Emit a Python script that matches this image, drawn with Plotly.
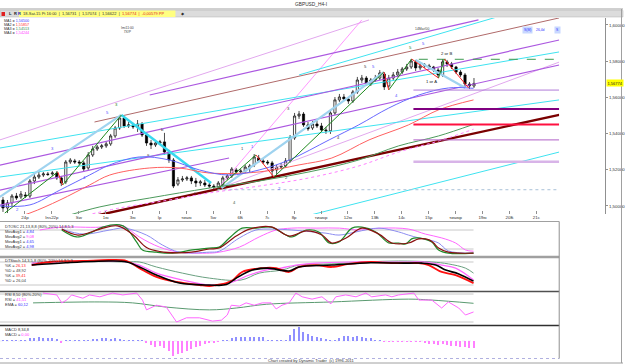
import plotly.graph_objects as go

W, H = 625, 364

# ---------------- data ----------------
bars = list(range(106))
opens = [1.5033,1.4989,1.5017,1.5055,1.5050,1.5061,1.5055,1.5138,1.5160,1.5171,
         1.5177,1.5177,1.5182,1.5155,1.5133,1.5243,1.5249,1.5243,1.5238,1.5210,
         1.5282,1.5315,1.5326,1.5332,1.5343,1.5387,1.5431,1.5486,1.5442,1.5448,
         1.5437,1.5453,1.5392,1.5348,1.5337,1.5348,1.5354,1.5298,1.5254,1.5121,
         1.5144,1.5149,1.5155,1.5138,1.5127,1.5127,1.5116,1.5110,1.5105,1.5116,
         1.5155,1.5166,1.5199,1.5188,1.5193,1.5210,1.5227,1.5265,1.5249,1.5243,
         1.5238,1.5199,1.5215,1.5221,1.5249,1.5376,1.5497,1.5508,1.5448,1.5431,
         1.5453,1.5442,1.5420,1.5415,1.5514,1.5586,1.5602,1.5591,1.5580,1.5630,
         1.5696,1.5707,1.5674,1.5696,1.5707,1.5729,1.5663,1.5707,1.5724,1.5740,
         1.5757,1.5768,1.5796,1.5763,1.5774,1.5774,1.5768,1.5751,1.5724,1.5796,
         1.5785,1.5768,1.5740,1.5724,1.5674,1.5663]
closes = [1.4989,1.5017,1.5055,1.5044,1.5066,1.5055,1.5138,1.5160,1.5171,1.5177,
          1.5174,1.5182,1.5155,1.5127,1.5243,1.5254,1.5243,1.5238,1.5204,1.5282,
          1.5315,1.5326,1.5332,1.5343,1.5387,1.5431,1.5486,1.5442,1.5448,1.5437,
          1.5453,1.5392,1.5348,1.5337,1.5348,1.5354,1.5298,1.5254,1.5110,1.5144,
          1.5149,1.5155,1.5138,1.5127,1.5133,1.5116,1.5110,1.5105,1.5127,1.5155,
          1.5166,1.5204,1.5188,1.5193,1.5215,1.5221,1.5271,1.5249,1.5243,1.5238,
          1.5193,1.5215,1.5221,1.5249,1.5376,1.5497,1.5508,1.5448,1.5426,1.5453,
          1.5442,1.5420,1.5415,1.5514,1.5586,1.5602,1.5591,1.5580,1.5630,1.5696,
          1.5707,1.5674,1.5696,1.5707,1.5735,1.5658,1.5707,1.5724,1.5740,1.5757,
          1.5768,1.5801,1.5763,1.5774,1.5779,1.5768,1.5751,1.5724,1.5796,1.5785,
          1.5768,1.5740,1.5724,1.5674,1.5663,1.56774]
highs = [1.5050,1.5033,1.5066,1.5072,1.5083,1.5077,1.5149,1.5177,1.5188,1.5188,
         1.5188,1.5193,1.5193,1.5166,1.5254,1.5265,1.5260,1.5254,1.5249,1.5298,
         1.5332,1.5337,1.5343,1.5354,1.5398,1.5442,1.5503,1.5497,1.5464,1.5459,
         1.5475,1.5464,1.5404,1.5365,1.5359,1.5365,1.5404,1.5310,1.5265,1.5160,
         1.5166,1.5166,1.5166,1.5155,1.5144,1.5144,1.5127,1.5121,1.5138,1.5166,
         1.5177,1.5215,1.5210,1.5204,1.5227,1.5232,1.5287,1.5282,1.5260,1.5254,
         1.5249,1.5227,1.5238,1.5265,1.5392,1.5514,1.5525,1.5519,1.5464,1.5470,
         1.5470,1.5459,1.5437,1.5531,1.5602,1.5619,1.5619,1.5602,1.5641,1.5713,
         1.5724,1.5718,1.5707,1.5724,1.5751,1.5740,1.5724,1.5740,1.5757,1.5768,
         1.5785,1.5812,1.5807,1.5790,1.5790,1.5785,1.5774,1.5763,1.5812,1.5807,
         1.5796,1.5774,1.5751,1.5735,1.5685,1.5707]
lows = [1.4967,1.4961,1.5000,1.5033,1.5039,1.5044,1.5044,1.5121,1.5149,1.5160,
        1.5166,1.5166,1.5144,1.5110,1.5121,1.5232,1.5232,1.5227,1.5188,1.5199,
        1.5271,1.5304,1.5315,1.5321,1.5332,1.5376,1.5420,1.5431,1.5431,1.5426,
        1.5409,1.5381,1.5332,1.5315,1.5326,1.5337,1.5282,1.5238,1.5099,1.5110,
        1.5133,1.5138,1.5121,1.5105,1.5110,1.5105,1.5099,1.5094,1.5088,1.5105,
        1.5144,1.5155,1.5177,1.5177,1.5182,1.5188,1.5215,1.5238,1.5232,1.5227,
        1.5160,1.5177,1.5204,1.5210,1.5238,1.5365,1.5481,1.5437,1.5415,1.5420,
        1.5431,1.5409,1.5398,1.5398,1.5503,1.5575,1.5580,1.5564,1.5569,1.5619,
        1.5680,1.5663,1.5663,1.5685,1.5696,1.5641,1.5652,1.5696,1.5713,1.5729,
        1.5746,1.5757,1.5746,1.5751,1.5763,1.5757,1.5740,1.5707,1.5713,1.5768,
        1.5757,1.5729,1.5713,1.5658,1.5646,1.5652]

# moving averages (bar, price)
ma1_x = [-0.7,6,12.7,19.3,23.8,30.4,37.1,43.8,50.4,57.1,63.8,72.7,79.3,86,92.7,99.3,104.9]
ma1_y = [1.5000,1.5006,1.5088,1.5171,1.5227,1.5271,1.5254,1.5199,1.5171,1.5199,1.5254,1.5365,1.5448,1.5541,1.5613,1.5652,1.5650]
ma2_x = [-0.7,6,12.7,19.3,23.8,32.7,39.3,46,57.1,66,73.3,81.6,90.4,97.1,104.9]
ma2_y = [1.4911,1.4961,1.5033,1.5116,1.5171,1.5210,1.5210,1.5182,1.5188,1.5227,1.5265,1.5365,1.5448,1.5531,1.5586]
ma3_x = [12.7,21.6,32.7,46,57.1,68.2,79.3,88.2,97.1,104.9]
ma3_y = [1.4934,1.4995,1.5044,1.5099,1.5138,1.5188,1.5254,1.5332,1.5387,1.5451]
ma4_x = [16,26,37.1,46,57.1,68.2,79.3,88.2,97.1,104.9]
ma4_y = [1.4934,1.4989,1.5033,1.5072,1.5110,1.5155,1.5221,1.5298,1.5359,1.5424]

# drawn trend lines: (bar0, price0, bar1, price1)
purple_lines = [(-0.7,1.5226,124,1.5917),(-0.7,1.5088,124,1.5779),
                (32.7,1.5613,106,1.6028),(-0.7,1.5005,50.4,1.5265)]
cyan_lines = [(-0.7,1.5320,124,1.5851),(-0.7,1.5160,124,1.5586),
              (66,1.4934,124,1.5298),(66,1.5724,111.6,1.6055)]
plum_lines = [(-0.7,1.5365,81.6,1.6028),(47.8,1.5094,124,1.5795)]
pink_lines = [(47.8,1.5094,80,1.6028)]
brown_lines = [(20.4,1.5464,124,1.6039)]
darkred_lines = [(19.3,1.4939,124,1.5503)]
lightblue_lines = [(-0.7,1.5050,26.4,1.5503),(48.7,1.5099,84.9,1.5740),(92,1.5807,103.1,1.5652)]
turq_lines = [(26.4,1.5503,46.4,1.5127)]
green_zig = [(0.4,1.4961,12.2,1.5188),(13.3,1.5116,26.4,1.5503),(47.8,1.5094,56.4,1.5282),
             (60.4,1.5160,84.9,1.5740),(86,1.5641,91.1,1.5812),(97.1,1.5707,98.4,1.5812)]
red_zig = [(12.2,1.5188,13.3,1.5116),(56.4,1.5282,60.4,1.5160),(84.9,1.5740,86,1.5641),
           (91.1,1.5812,97.1,1.5707),(98.4,1.5812,103.8,1.5652)]

fib_start, fib_end = 91.5, 124
fib_prices = [1.56404, 1.55352, 1.54502, 1.53651, 1.52440]
fib_labels = ["1,56404 Ret 0,236", "1,55352 Ret 0,382", "1,54502 Ret 0,500",
              "1,53651 Ret 0,618", "1,52440 Ret 0,786"]
fib_colors = ["#b07ad8", "#800080", "#ff1040", "#b060c8", "#d8b4e8"]
fib_widths = [1, 2, 2, 1, 2.6]
swing_high, swing_low = 1.58105, 1.50898

wave_labels = [(25.3,1.5558,"3","#208020"),(23.3,1.5514,"5","#5050ff"),(11.1,1.5320,"3","#5050ff"),
               (18.2,1.5155,"4","#5050ff"),(3.3,1.4978,"2","#5050ff"),(32.4,1.5282,"a","#404040"),
               (35.6,1.5420,"b","#404040"),(42.7,1.5077,"c","#404040"),(51.6,1.5022,"4","#406040"),
               (53.3,1.5320,"1","#404040"),(55.6,1.5326,"1","#5050ff"),(61.6,1.5099,"2","#5050ff"),
               (63.3,1.5155,"2","#404040"),(63.6,1.5541,"3","#404040"),(74.7,1.5376,"4","#404040"),
               (80.9,1.5773,"5","#404040"),(82.7,1.5773,"5","#5050ff"),(87.8,1.5613,"4","#5050ff"),
               (90.9,1.5878,"5","#208020"),(93.8,1.5900,"5","#5050ff"),(98.9,1.5845,"2 or B","#202020"),
               (95.6,1.5690,"1 or A","#202020")]

date_ticks = [4.9,10.9,16.9,22.9,28.9,34.9,40.9,46.9,52.9,58.9,64.9,70.9,76.9,82.9,88.9,94.9,100.9,106.9,112.9,118.9]
date_labels = ["24p","Ins22p","Sw","1ю","3ю","Ip","тиаю","5w","6Б","7c","8р","тиаюр","12ю","13Б","14c","15р","тиаюр","19ю","20Б","21c"]
price_ticks = [1.50,1.52,1.54,1.56,1.58,1.60]
price_labels = ["1,50000","1,52000","1,54000","1,56000","1,58000","1,60000"]
last_price = 1.56774

# DTOSC (bar, value)
osc_green_x = [13.1,16.4,19.3,22.2,26,27.5,29.8,31.1,34.2,37.8,42.2,46,48.2,50.4,53.3,56.4,59.8,63.1,64.4,67.6,70.4,72.7,74.9,77.8,80,83.1,86,88.2,89.8,91.1,92.2,93.8,95.6,97.1,99.3,104.9]
osc_green_y = [80,58,70,89,96,86,42,17,10,7,17,23,26,54,86,86,89,64,58,80,74,39,42,86,89,74,39,39,36,52,55,52,42,17,7,7]
osc_red_x = [13.1,16.7,21.6,25.5,29,32,35,39,42,46,48.2,52,55,59.8,63.8,67.6,71.1,73.3,76.4,80,83.8,86.7,90.4,92.7,95,96,97.1,99.3,104.9]
osc_red_y = [83,64,83,93,65,25,12,8,10,20,23,61,83,90,61,77,64,39,54,86,67,39,39,52,49,39,23,10,7]
osc_blue_x = [13.1,18,23.8,27,32,35.5,39.3,46,48.2,52.7,56.4,60,64.4,67.6,72,74.9,78.7,83.8,88.2,90.4,92.7,94.2,97.1,99.3,104.9]
osc_blue_y = [83,67,80,86,64,33,10,10,13,55,80,83,80,76,70,64,74,86,74,64,55,51,39,14,7]
osc_pink_x = [8.2,12.7,21.6,25.3,27,30.4,34.9,39.3,46,48.2,52.7,57.1,60.9,64.4,70,75,79.3,84.4,90.4,94.2,97.8,100.9,103.1,104.9]
osc_pink_y = [80,89,89,96,92,58,26,10,7,10,26,58,80,86,86,86,80,86,83,67,55,39,17,13]

# DTStoch
st_red_x = [6.4,10.4,17.8,23.8,27.6,30.4,34.2,38.7,43.8,46,47.6,49.8,51.3,53.3,57.8,60.9,63.8,66,69.8,73.3,77.1,82,86.7,90.4,92.7,94.9,97.8,100.9,104.9]
st_red_y = [72,80,82.6,85.2,82.6,64,41,28,20,17.4,20,25,33,54,64,64,54,67,72,67,75,80,77,77,77,72,54,46,25]
st_blk_x = [6.4,14,23.8,27.6,31,34.2,39.3,46,49.8,52,55.6,59,63.8,66,73.3,82,90.4,93.4,96.5,98.7,101.6,104.9]
st_blk_y = [72,78,82.6,80,64,46,25,20,21,38,59,64,56.5,67,72,78,77,77,72,59,49,30]
st_pink_x = [6.4,17.8,27.6,30.4,34.2,40,46,50.4,54.9,58.6,62,65.3,69.8,77.1,84.4,90.4,94.2,97.8,100.9,104.9]
st_pink_y = [77,82.6,80,72,51,33,20,25,46,59,64,72,77,80,80,80,80,72,64,33]
st_green_x = [6.4,17.8,27.6,30.4,34.2,40,46,53.1,57.1,62.2,66,73.3,80.9,88.2,95.6,99.3,103.1,104.9]
st_green_y = [77,82.6,80,80,67,51,38,33,51,59,72,75,80,82.6,80,75,64,51]

# RSI
rsi_x = [8.9,12,13.1,14.2,15.3,17.8,19.3,21.6,24.4,26.7,29.8,31.1,32,34.2,36.4,38.7,40.9,43.8,46.7,48.7,50,50.9,52.7,54.2,56,57.8,59.8,60.9,62.2,63.8,65.3,66.7,68.9,71.1,73.1,74.2,76.4,78.7,80.9,82.2,85.3,86.7,88.2,91.6,92.7,95.6,97.8,99.3,101.6,103.1,104.9]
rsi_y = [82,78,61,67,78,71,78,74,82,78,82,67,46,56,52,20,29,29,22,24,35,56,54,61,56,61,61,48,56,61,82,74,69,74,59,74,78,74,82,74,78,74,78,82,67,67,50,63,50,35,41.5]
ema_x = [6.7,21.6,28.9,36.4,46,52,58.7,73.3,90.4,95.6,104.9]
ema_y = [61,63,61,52,46,50,58,63,69,67,60.1]

# MACD histogram (one per bar)
macd_hist = [0.0001,0.0001,0.0001,0.0001,0.0001,0.0001,
             0.0006,0.0007,0.0008,0.0006,0.0007,0.0006,0.0004,
             -0.0004,
             0.0002,0.0002,0.0001,0.0001,0.0002,0.0002,0.0003,
             0.0004,0.0006,0.0006,0.0005,0.0006,0.0004,
             0.0002,0.0002,0.0001,0.0001,0.00006,
             -0.0003,-0.0008,-0.0012,-0.0010,-0.0013,-0.0020,-0.0030,-0.0026,-0.0024,-0.0020,
             -0.0016,-0.0012,-0.0010,-0.0006,-0.0004,-0.0003,-0.0001,0.0001,0.0002,
             0.0006,0.0008,0.0008,0.0008,0.0008,0.0009,0.0008,0.0008,
             0.0002,0.0001,0.0001,0.0002,0.0002,
             0.0012,0.0024,0.0028,0.0018,0.0014,0.0010,0.0008,
             0.0006,0.0004,0.0002,0.0001,
             0.0006,0.0010,0.0010,0.0008,0.0010,0.0008,0.0006,0.0006,
             0.0002,0.0001,-0.0002,-0.0002,-0.0001,-0.0002,
             -0.0002,-0.0002,-0.0001,-0.0002,-0.0002,
             -0.0004,-0.0005,-0.0006,-0.0008,-0.0006,-0.0008,-0.0010,-0.0010,-0.0011,-0.0012,-0.0014,-0.0014]

# ---------------- geometry helpers (layout only) ----------------
def px(x):
    return x / W

def py(y):
    return 1 - y / H

XR = [-0.667, 124.0]
XDOM = [0, px(561)]
FONT = "Liberation Sans"
FS = 4.4

fig = go.Figure()

def seg_trace(lines, color, width, axis=("x", "y"), dash="solid"):
    xs, ys = [], []
    for (a, b, c, d) in lines:
        xs += [a, c, None]
        ys += [b, d, None]
    fig.add_trace(go.Scatter(x=xs, y=ys, mode="lines", line=dict(color=color, width=width, dash=dash),
                             xaxis=axis[0], yaxis=axis[1], hoverinfo="skip", showlegend=False))

# main panel lines (behind candles)
seg_trace(plum_lines, "#e2a8ee", 1)
seg_trace(pink_lines, "#ff7cff", 0.8)
seg_trace(cyan_lines, "#3fe3f0", 1)
seg_trace(purple_lines, "#ac58e0", 1.2)
seg_trace(brown_lines, "#b06a6a", 1)
seg_trace(darkred_lines, "#7a0000", 2.4)
seg_trace(lightblue_lines, "#9fd3ef", 2.2)
seg_trace(turq_lines, "#38d8ee", 2.4)

fig.add_trace(go.Scatter(x=ma4_x, y=ma4_y, mode="lines", line=dict(color="#ff80ff", width=1, dash="dot", shape="spline"), hoverinfo="skip", showlegend=False))
fig.add_trace(go.Scatter(x=ma3_x, y=ma3_y, mode="lines", line=dict(color="#4c9a5c", width=1, shape="spline"), hoverinfo="skip", showlegend=False))
fig.add_trace(go.Scatter(x=ma2_x, y=ma2_y, mode="lines", line=dict(color="#ff6060", width=1, shape="spline"), hoverinfo="skip", showlegend=False))
fig.add_trace(go.Scatter(x=ma1_x, y=ma1_y, mode="lines", line=dict(color="#6868ff", width=1, shape="spline"), hoverinfo="skip", showlegend=False))

seg_trace([(fib_start + 1.2, swing_high, fib_end, swing_high)], "#3c9a50", 1, dash="dash")
seg_trace([(47.8, swing_low, fib_end, swing_low)], "#a8c0d8", 1, dash="dot")
for p, c, w in zip(fib_prices, fib_colors, fib_widths):
    seg_trace([(fib_start, p, fib_end, p)], c, w)

seg_trace(green_zig, "#1e8a1e", 1)
seg_trace(red_zig, "#ff2020", 1)

fig.add_trace(go.Candlestick(x=bars, open=opens, high=highs, low=lows, close=closes,
                             increasing=dict(line=dict(color="black", width=0.7), fillcolor="white"),
                             decreasing=dict(line=dict(color="black", width=0.7), fillcolor="black"),
                             whiskerwidth=0, hoverinfo="skip", showlegend=False))

# DTOSC
for xs, ys, c, w in [(osc_pink_x, osc_pink_y, "#ff66ff", 1), (osc_blue_x, osc_blue_y, "#8c8cf0", 1),
                     (osc_green_x, osc_green_y, "#1f8a2a", 1.2), (osc_red_x, osc_red_y, "#8b1010", 1.2)]:
    fig.add_trace(go.Scatter(x=xs, y=ys, mode="lines", line=dict(color=c, width=w, shape="spline"),
                             xaxis="x2", yaxis="y2", hoverinfo="skip", showlegend=False))
# DTStoch
for xs, ys, c, w in [(st_green_x, st_green_y, "#6aa080", 1), (st_pink_x, st_pink_y, "#ff66ff", 1.2),
                     (st_red_x, st_red_y, "#ff1010", 1.8), (st_blk_x, st_blk_y, "#000000", 1.6)]:
    fig.add_trace(go.Scatter(x=xs, y=ys, mode="lines", line=dict(color=c, width=w, shape="spline"),
                             xaxis="x3", yaxis="y3", hoverinfo="skip", showlegend=False))
# RSI
fig.add_trace(go.Scatter(x=ema_x, y=ema_y, mode="lines", line=dict(color="#5a9a70", width=1, shape="spline"),
                         xaxis="x4", yaxis="y4", hoverinfo="skip", showlegend=False))
fig.add_trace(go.Scatter(x=rsi_x, y=rsi_y, mode="lines", line=dict(color="#ff66ff", width=1),
                         xaxis="x4", yaxis="y4", hoverinfo="skip", showlegend=False))
# MACD
fig.add_trace(go.Bar(x=bars, y=macd_hist, width=0.25,
                     marker=dict(color=["#9090ff" if v >= 0 else "#ff80ff" for v in macd_hist], line=dict(width=0)),
                     xaxis="x5", yaxis="y5", hoverinfo="skip", showlegend=False))

# reference lines in sub panels
for ax, levels in [("y2", [80, 20]), ("y3", [80, 20]), ("y4", [80, 20])]:
    for lv in levels:
        fig.add_shape(type="line", xref="x2", yref=ax, x0=XR[0], x1=104.9, y0=lv, y1=lv,
                      line=dict(color="#c8c8c8", width=1), layer="below")
fig.add_shape(type="line", xref="x5", yref="y5", x0=XR[0], x1=104.9, y0=0, y1=0,
              line=dict(color="#e0e0f0", width=0.6, dash="dot"), layer="below")

ax_common = dict(showgrid=False, zeroline=False, showticklabels=False, ticks="", showline=False)
fig.update_layout(
    width=W, height=H, margin=dict(l=0, r=0, t=0, b=0),
    paper_bgcolor="white", plot_bgcolor="white", bargap=0,
    font=dict(family=FONT, size=FS, color="#303030"),
    xaxis=dict(domain=XDOM, range=XR, showgrid=False, zeroline=False, rangeslider=dict(visible=False),
               tickvals=date_ticks, ticktext=date_labels, ticks="inside", ticklen=3, tickcolor="#909090",
               tickfont=dict(size=FS, color="#303030"), anchor="y", showline=False),
    yaxis=dict(domain=[py(214), py(18)], range=[1.49557, 1.60386], side="right", anchor="free",
               position=px(607), tickvals=price_ticks, ticktext=price_labels, ticks="outside", ticklen=2,
               tickcolor="#909090", showline=True, linecolor="#909090", linewidth=1, showgrid=False,
               zeroline=False, tickfont=dict(size=FS, color="#303030")),
    xaxis2=dict(domain=XDOM, range=XR, anchor="y2", matches="x", **ax_common),
    yaxis2=dict(domain=[py(256), py(222)], range=[-2.1, 105.3], anchor="x2", **ax_common),
    xaxis3=dict(domain=XDOM, range=XR, anchor="y3", matches="x", **ax_common),
    yaxis3=dict(domain=[py(291), py(258)], range=[4.35, 90.4], anchor="x3", **ax_common),
    xaxis4=dict(domain=XDOM, range=XR, anchor="y4", matches="x", **ax_common),
    yaxis4=dict(domain=[py(325), py(292)], range=[13.6, 84.3], anchor="x4", **ax_common),
    xaxis5=dict(domain=XDOM, range=XR, anchor="y5", matches="x", **ax_common),
    yaxis5=dict(domain=[py(358), py(326)], range=[-0.0034, 0.0030], anchor="x5", **ax_common),
)

shapes = []
# toolbar
shapes.append(dict(type="line", xref="paper", yref="paper", x0=0, x1=1, y0=py(9), y1=py(9), line=dict(color="#a0a0a0", width=1)))
shapes.append(dict(type="rect", xref="paper", yref="paper", x0=0, x1=1, y0=py(17), y1=py(10.5), fillcolor="#dcdcdc", line=dict(color="#b0b0b0", width=0.5)))
shapes.append(dict(type="rect", xref="paper", yref="paper", x0=px(19), x1=px(176), y0=py(17), y1=py(10.5), fillcolor="#ffff80", line=dict(width=0)))
shapes.append(dict(type="rect", xref="paper", yref="paper", x0=px(1.5), x1=px(5), y0=py(16), y1=py(12), fillcolor="#e02020", line=dict(width=0)))
# panel frames
shapes.append(dict(type="line", xref="paper", yref="paper", x0=0, x1=px(561), y0=py(221.5), y1=py(221.5), line=dict(color="#a0a0a0", width=1)))
shapes.append(dict(type="line", xref="paper", yref="paper", x0=0, x1=px(561), y0=py(257), y1=py(257), line=dict(color="#a0a0a0", width=2.5)))
shapes.append(dict(type="line", xref="paper", yref="paper", x0=0, x1=px(561), y0=py(291.5), y1=py(291.5), line=dict(color="#505050", width=1.5)))
shapes.append(dict(type="line", xref="paper", yref="paper", x0=0, x1=px(561), y0=py(325.5), y1=py(325.5), line=dict(color="#303030", width=1.5)))
shapes.append(dict(type="line", xref="paper", yref="paper", x0=0, x1=px(561), y0=py(358.5), y1=py(358.5), line=dict(color="#b0b0e0", width=1, dash="dot")))
shapes.append(dict(type="line", xref="paper", yref="paper", x0=px(561), x1=px(561), y0=py(358.5), y1=py(221.5), line=dict(color="#909090", width=1)))
# outer border
shapes.append(dict(type="line", xref="paper", yref="paper", x0=0, x1=1, y0=py(363), y1=py(363), line=dict(color="#a0a0a0", width=1)))
shapes.append(dict(type="line", xref="paper", yref="paper", x0=px(623.5), x1=px(623.5), y0=py(363), y1=py(9), line=dict(color="#a0a0a0", width=1)))
for s in shapes:
    fig.add_shape(**s)

ann = []
def T(x, y, text, color="#303030", size=FS, xanchor="left", xref="paper", yref="paper", **kw):
    ann.append(dict(x=x, y=y, text=text, xref=xref, yref=yref, xanchor=xanchor, yanchor="middle",
                    showarrow=False, font=dict(size=size, color=color, family=FONT), **kw))

T(px(312), py(5), "GBPUSD_H4-I", xanchor="center", size=4.8)
T(px(7), py(13.8), "<b>L</b>", color="#202020", size=4)
T(px(12), py(13.8), "<b>R</b>", color="#202020", size=4)
T(px(16), py(13.8), "<b>R</b>", color="#2020c0", size=4)
T(px(21), py(13.8), "18-Sat-15 Pt 16:00  |  1,56731  |  1,57074  |  1,56622  |  "
  "<span style='color:#e02020'>1,56774  |  -0,00579 PP</span>", color="#303030", size=4.0)
T(px(180), py(13.8), "◆", color="#303030", size=4.0)

# MA legend
for i, (name, val, col) in enumerate([("MA1", "1,56500", "#3838ff"), ("MA2", "1,55857", "#ff3030"),
                                      ("MA3", "1,54513", "#2e8a4a"), ("MA4", "1,54244", "#ff40ff")]):
    T(px(2), py(20.5 + 4.2 * i), f"{name} = <span style='color:{col}'>{val}</span>", size=3.7)

# top time markers
T(px(119), py(30), "Imi11:00<br>7X/P", size=3.4, color="#404040")
T(px(414), py(29), "14Mar/00", size=3.4, color="#404040")
T(px(524), py(30), "S(M)", size=3.4, color="#3030ff", bgcolor="#c8d8ff")
T(px(536), py(30), "26,4d", size=3.4, color="#3030ff")
T(px(556), py(30), "S", size=3.4, color="#3030ff", bgcolor="#c8d8ff")

# wave labels
for (bx, pr, txt, col) in wave_labels:
    T(bx, pr, txt, color=col, size=4.2, xanchor="center", xref="x", yref="y")

# fib labels (right of plot)
for p, lab, c in zip(fib_prices, fib_labels, fib_colors):
    T(fib_end + 0.6, p, lab, color=c if c != "#d8b4e8" else "#a070c0", size=3.7, xref="x", yref="y")

# last price tag
T(px(608), last_price, "1,56774", color="#202020", size=4.0, yref="y", bgcolor="#ffff00", borderpad=0.5)

# sub-panel texts
T(px(3), py(226.5), "DTOSC 21,13,8,8 (80%-20%) 14,8,5,3", size=4.0)
T(px(3), py(231.5), "MovAvg1 = <span style='color:#3030ff'>4,84</span>", size=4.0)
T(px(3), py(236.5), "MovAvg2 = <span style='color:#ff30ff'>9,08</span>", size=4.0)
T(px(3), py(241.5), "MovAvg1 = <span style='color:#3030ff'>4,65</span>", size=4.0)
T(px(3), py(246.5), "MovAvg2 = <span style='color:#3030ff'>4,98</span>", size=4.0)
T(px(3), py(260.5), "DTStoch 14,3,5,8 (80%-20%) 14,8,5,3", size=4.0)
T(px(3), py(265.5), "%K = <span style='color:#ff2020'>26,13</span>", size=4.0)
T(px(3), py(270.5), "%D = <span style='color:#404040'>48,92</span>", size=4.0)
T(px(3), py(275.5), "%K = <span style='color:#ff2020'>39,41</span>", size=4.0)
T(px(3), py(280.5), "%D = <span style='color:#404040'>26,04</span>", size=4.0)
T(px(3), py(294.5), "RSI 8,50 (80%-20%)", size=4.0)
T(px(3), py(299.5), "RSI = <span style='color:#ff30ff'>41,51</span>", size=4.0)
T(px(3), py(304.5), "EMA = <span style='color:#3030ff'>60,12</span>", size=4.0)
T(px(3), py(329), "MACD 8,34,8", size=4.0)
T(px(3), py(334), "MACD = <span style='color:#ff30ff'>0,00</span>", size=4.0)
T(px(312), py(360.5), "Chart created by Dynamic Trader  (c) 1996-2011", xanchor="center", size=4.0)

fig.update_layout(annotations=ann)
fig.write_html("out.html")
